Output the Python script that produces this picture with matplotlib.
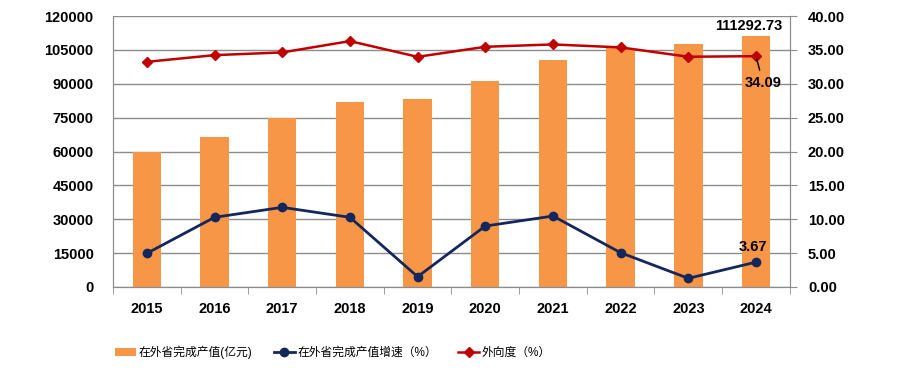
import matplotlib.pyplot as plt
import numpy as np

plt.rcParams['font.family'] = ['Liberation Sans', 'Noto Sans CJK SC', 'DejaVu Sans']

years = ['2015', '2016', '2017', '2018', '2019', '2020', '2021', '2022', '2023', '2024']
output_value = [60000, 66300, 74700, 82000, 83200, 91200, 100500, 105800, 107500, 111292.73]
growth_rate = [4.97, 10.29, 11.76, 10.29, 1.52, 9.00, 10.48, 5.06, 1.28, 3.67]
outward_degree = [33.25, 34.24, 34.64, 36.31, 33.99, 35.47, 35.82, 35.38, 34.00, 34.09]

bar_color = '#F79646'
blue = '#14275C'
red = '#C00000'

fig = plt.figure(figsize=(9, 3.75), dpi=100)
ax = fig.add_axes([0.1256, 0.2347, 0.752, 0.7223])
ax2 = ax.twinx()

x = np.arange(len(years))
ax.bar(x, output_value, width=0.42, color=bar_color, zorder=2, label='在外省完成产值(亿元)')
ax.set_xlim(-0.5, len(years) - 0.5)
ax.set_ylim(0, 120000)
ax.set_yticks(range(0, 120001, 15000))
ax.grid(axis='y', color='#8c8c8c', linewidth=1)
ax.set_axisbelow(True)
ax.set_xticks(x)
ax.set_xticklabels(years, fontweight='bold', fontsize=10.5)
ax.set_xticks(np.arange(-0.5, len(years)), minor=True)
ax.tick_params(axis='x', which='major', length=0, pad=11)
ax.tick_params(axis='x', which='minor', length=5, color='#8c8c8c')
ax.tick_params(axis='y', length=0, labelsize=10.5, pad=14)
for lbl in ax.get_yticklabels():
    lbl.set_fontweight('bold')

l1, = ax2.plot(x, growth_rate, color=blue, marker='o', markersize=6, linewidth=2,
               label='在外省完成产值增速（%）')
l2, = ax2.plot(x, outward_degree, color=red, marker='D', markersize=5.5, linewidth=1.8,
               label='外向度（%）')
ax2.set_ylim(0, 40)
ax2.set_yticks(range(0, 41, 5))
ax2.set_yticklabels(['%.2f' % v for v in range(0, 41, 5)], fontweight='bold', fontsize=10.5)
ax2.tick_params(axis='y', length=5, color='#8c8c8c', pad=8)

for a in (ax, ax2):
    a.spines['top'].set_visible(False)
    for s in ('left', 'right', 'bottom'):
        a.spines[s].set_color('#8c8c8c')

ax.annotate('%.2f' % output_value[-1], (x[-1], output_value[-1]), xytext=(-5, 4),
            textcoords='offset points', ha='center', fontsize=10.5, fontweight='bold')
ax2.annotate('%.2f' % outward_degree[-1], (x[-1], outward_degree[-1]), xytext=(5, -22),
             textcoords='offset points', ha='center', fontsize=10.5, fontweight='bold',
             arrowprops=dict(arrowstyle='-', color='black', lw=1))
ax2.annotate('%.2f' % growth_rate[-1], (x[-1], growth_rate[-1]), xytext=(-2, 8),
             textcoords='offset points', ha='center', fontsize=10.5, fontweight='bold')

handles = [ax.containers[0], l1, l2]
fig.legend(handles, [h.get_label() for h in handles], loc='center', bbox_to_anchor=(0.37, 0.06),
           ncol=3, frameon=False, fontsize=8.5, handlelength=1.8, handletextpad=0.2,
           columnspacing=1.8)

fig.savefig('out.png', dpi=100)
